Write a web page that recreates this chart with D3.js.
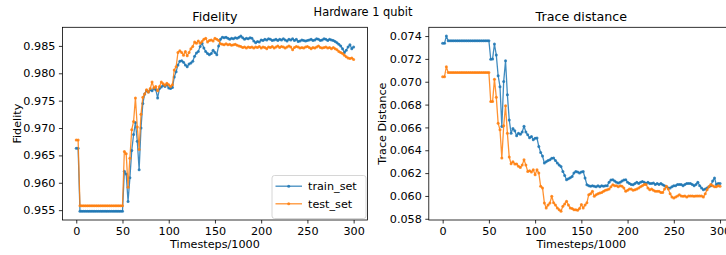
<!DOCTYPE html>
<html><head><meta charset="utf-8">
<script src="https://cdn.jsdelivr.net/npm/d3@7/dist/d3.min.js"></script>
<style>
html,body{margin:0;padding:0;background:#fff;}
svg{display:block;font-family:"DejaVu Sans",sans-serif;}
</style></head>
<body><svg id="chart" width="726" height="255"></svg>
<script>
// x positions: timesteps/1000, sampled every 2
const timesteps = d3.range(0, 301, 2);

const fidelityTrain = [
0.9663,0.9663,0.9548,0.9548,0.9548,0.9548,0.9548,0.9548,0.9548,0.9548,
0.9548,0.9548,0.9548,0.9548,0.9548,0.9548,0.9548,0.9548,0.9548,0.9548,
0.9548,0.9548,0.9548,0.9548,0.9548,0.9548,0.9621,0.9616,0.9566,0.9609,
0.9659,0.9688,0.9710,0.9676,0.9624,0.9700,0.9745,0.9762,0.9768,0.9766,
0.9770,0.9768,0.9772,0.9770,0.9755,0.9772,0.9775,0.9778,0.9776,0.9779,
0.9773,0.9772,0.9774,0.9793,0.9803,0.9815,0.9822,0.9823,0.9820,0.9815,
0.9812,0.9817,0.9819,0.9822,0.9831,0.9837,0.9840,0.9849,0.9855,0.9846,
0.9840,0.9836,0.9834,0.9836,0.9842,0.9838,0.9834,0.9850,0.9862,0.9866,
0.9865,0.9866,0.9864,0.9862,0.9864,0.9863,0.9865,0.9864,0.9866,0.9868,
0.9865,0.9862,0.9864,0.9863,0.9865,0.9864,0.9859,0.9856,0.9858,0.9857,
0.9861,0.9860,0.9862,0.9861,0.9863,0.9862,0.9860,0.9861,0.9862,0.9860,
0.9862,0.9861,0.9863,0.9861,0.9859,0.9862,0.9861,0.9863,0.9860,0.9862,
0.9858,0.9859,0.9861,0.9860,0.9859,0.9860,0.9861,0.9862,0.9860,0.9861,
0.9863,0.9862,0.9860,0.9861,0.9863,0.9862,0.9860,0.9862,0.9861,0.9860,
0.9858,0.9856,0.9853,0.9850,0.9845,0.9838,0.9842,0.9848,0.9852,0.9845,
0.9848];

const fidelityTest = [
0.9678,0.9678,0.9558,0.9558,0.9558,0.9558,0.9558,0.9558,0.9558,0.9558,
0.9558,0.9558,0.9558,0.9558,0.9558,0.9558,0.9558,0.9558,0.9558,0.9558,
0.9558,0.9558,0.9558,0.9558,0.9558,0.9558,0.9657,0.9653,0.9592,0.9645,
0.9697,0.9712,0.9755,0.9702,0.9661,0.9725,0.9756,0.9762,0.9770,0.9766,
0.9772,0.9784,0.9773,0.9776,0.9768,0.9776,0.9784,0.9781,0.9778,0.9782,
0.9779,0.9776,0.9779,0.9806,0.9812,0.9838,0.9841,0.9838,0.9833,0.9840,
0.9832,0.9838,0.9845,0.9849,0.9857,0.9855,0.9859,0.9855,0.9858,0.9862,
0.9864,0.9857,0.9860,0.9861,0.9859,0.9864,0.9862,0.9860,0.9854,0.9853,
0.9852,0.9854,0.9852,0.9853,0.9851,0.9852,0.9853,0.9851,0.9850,0.9849,
0.9847,0.9848,0.9846,0.9848,0.9847,0.9848,0.9846,0.9848,0.9847,0.9849,
0.9846,0.9848,0.9847,0.9845,0.9848,0.9847,0.9849,0.9846,0.9848,0.9850,
0.9847,0.9849,0.9848,0.9846,0.9848,0.9850,0.9848,0.9843,0.9847,0.9849,
0.9848,0.9846,0.9847,0.9846,0.9848,0.9849,0.9847,0.9845,0.9847,0.9846,
0.9848,0.9850,0.9847,0.9846,0.9847,0.9848,0.9846,0.9847,0.9845,0.9847,
0.9845,0.9843,0.9840,0.9838,0.9836,0.9833,0.9830,0.9828,0.9827,0.9828,
0.9825];

const traceTrain = [
0.07336,0.07336,0.0740,0.07359,0.07359,0.07359,0.07359,0.07359,0.07359,0.07359,
0.07359,0.07359,0.07359,0.07359,0.07359,0.07359,0.07359,0.07359,0.07359,0.07359,
0.07359,0.07359,0.07359,0.07359,0.07359,0.07359,0.07197,0.0720,0.0733,0.07234,
0.07053,0.06957,0.06608,0.07001,0.07184,0.06885,0.06666,0.0655,0.0659,0.0657,
0.06527,0.0655,0.0654,0.0656,0.0661,0.0656,0.06535,0.0651,0.0652,0.06492,
0.06505,0.06507,0.06433,0.0638,0.0635,0.06288,0.0630,0.0631,0.06317,0.0633,
0.06332,0.0631,0.06288,0.0627,0.06258,0.06215,0.0618,0.06142,0.0615,0.0616,
0.06171,0.0620,0.06215,0.0621,0.06201,0.0621,0.06215,0.06157,0.06099,0.0609,
0.06084,0.0609,0.06084,0.0608,0.0609,0.0608,0.0609,0.06084,0.0609,0.0609,
0.0612,0.0614,0.06142,0.0613,0.0612,0.06113,0.0612,0.0613,0.0614,0.06142,
0.0612,0.0611,0.0610,0.06099,0.0611,0.0612,0.0611,0.0612,0.06127,0.0612,
0.0611,0.0612,0.0611,0.0611,0.06113,0.0610,0.0611,0.0610,0.0611,0.06099,
0.0609,0.0608,0.0607,0.0607,0.0608,0.0609,0.0609,0.0610,0.0610,0.0610,
0.0609,0.0610,0.0611,0.0611,0.0611,0.0610,0.0609,0.0610,0.0612,0.0609,
0.0607,0.06055,0.0606,0.0607,0.0608,0.0609,0.0613,0.06157,0.0610,0.0611,
0.0611];

const traceTest = [
0.07044,0.07044,0.07132,0.0708,0.0708,0.0708,0.0708,0.0708,0.0708,0.0708,
0.0708,0.0708,0.0708,0.0708,0.0708,0.0708,0.0708,0.0708,0.0708,0.0708,
0.0708,0.0708,0.0708,0.0708,0.0708,0.0708,0.06826,0.06826,0.07022,0.06865,
0.06637,0.06579,0.06332,0.06614,0.06789,0.0655,0.0634,0.06282,0.0630,0.0628,
0.0628,0.0626,0.0625,0.0627,0.06317,0.0627,0.06215,0.0622,0.0621,0.0623,
0.06186,0.0623,0.0620,0.06084,0.0607,0.05939,0.05895,0.0592,0.05939,0.05997,
0.0594,0.0592,0.05895,0.0588,0.05866,0.05909,0.0593,0.05953,0.0592,0.05895,
0.0589,0.0588,0.0588,0.05875,0.0589,0.05924,0.05895,0.0592,0.0594,0.06011,
0.0602,0.0604,0.05997,0.0601,0.0602,0.06026,0.0603,0.0604,0.0605,0.06055,
0.0606,0.0608,0.06099,0.0609,0.0609,0.0608,0.0609,0.06084,0.0607,0.0604,
0.0605,0.0606,0.0606,0.0605,0.06055,0.0606,0.0607,0.0608,0.0609,0.0610,
0.0610,0.0607,0.06055,0.0606,0.0605,0.0604,0.0604,0.0604,0.0603,0.0603,
0.0606,0.06084,0.0606,0.0602,0.0599,0.05982,0.0599,0.0600,0.06011,0.0600,
0.05997,0.0600,0.0599,0.0600,0.0600,0.0600,0.05997,0.0600,0.0600,0.0600,
0.0600,0.0599,0.0602,0.06055,0.0608,0.0610,0.0609,0.0608,0.0608,0.0609,
0.06084];

const xTicks = [0, 50, 100, 150, 200, 250, 300];
const fidelityTicks = [0.955, 0.960, 0.965, 0.970, 0.975, 0.980, 0.985];
const traceTicks = [0.058, 0.060, 0.062, 0.064, 0.066, 0.068, 0.070, 0.072, 0.074];
const seriesNames = ["train_set", "test_set"];
const colors = ["#1f77b4", "#ff7f0e"];

const svg = d3.select("#chart");

svg.append("text").attr("x", 363).attr("y", 16).attr("text-anchor", "middle")
  .attr("font-size", 11.4).text("Hardware 1 qubit");

function mplDomain(arrs) {
  const lo = d3.min(arrs, a => d3.min(a)), hi = d3.max(arrs, a => d3.max(a));
  const m = (hi - lo) * 0.05;
  return [lo - m, hi + m];
}

function panel(opts) {
  const {left, right, top, bottom, series, yTicks, yFmt, title, ylabel, ylabelX, legend, clipId} = opts;
  const x = d3.scaleLinear().domain([-15, 315]).range([left, right]);
  const y = d3.scaleLinear().domain(mplDomain(series)).range([bottom, top]);
  const g = svg.append("g");

  svg.append("clipPath").attr("id", clipId).append("rect")
    .attr("x", left).attr("y", top).attr("width", right - left).attr("height", bottom - top);

  const plot = g.append("g").attr("clip-path", `url(#${clipId})`);
  series.forEach((vals, i) => {
    const pts = vals.map((v, k) => [timesteps[k], v]);
    plot.append("path").datum(pts)
      .attr("fill", "none").attr("stroke", colors[i]).attr("stroke-width", 1.3)
      .attr("stroke-opacity", 0.85).attr("stroke-linejoin", "round")
      .attr("d", d3.line().x(d => x(d[0])).y(d => y(d[1])));
    plot.append("g").selectAll("circle").data(pts).join("circle")
      .attr("cx", d => x(d[0])).attr("cy", d => y(d[1])).attr("r", 1.5)
      .attr("fill", colors[i]).attr("fill-opacity", 0.85);
  });

  // axes
  const xAxis = d3.axisBottom(x).tickValues(xTicks).tickSize(3.5).tickPadding(3.5).tickFormat(d3.format("d"));
  const yAxis = d3.axisLeft(y).tickValues(yTicks).tickSize(3.5).tickPadding(3.5).tickFormat(yFmt);
  const gx = g.append("g").attr("transform", `translate(0,${bottom})`).call(xAxis);
  const gy = g.append("g").attr("transform", `translate(${left},0)`).call(yAxis);
  [gx, gy].forEach(a => {
    a.select(".domain").remove();
    a.selectAll("line").attr("stroke", "#000").attr("stroke-width", 0.8);
    a.selectAll("text").attr("font-size", 11.2).attr("fill", "#000")
      .attr("font-family", "DejaVu Sans, sans-serif");
  });

  // frame
  g.append("rect").attr("x", left).attr("y", top).attr("width", right - left).attr("height", bottom - top)
    .attr("fill", "none").attr("stroke", "#000").attr("stroke-width", 0.8);

  g.append("text").attr("x", (left + right) / 2).attr("y", top - 6).attr("text-anchor", "middle")
    .attr("font-size", 12.7).text(title);
  g.append("text").attr("x", x(150)).attr("y", bottom + 28).attr("text-anchor", "middle")
    .attr("font-size", 11.2).text("Timesteps/1000");
  g.append("text").attr("transform", `translate(${ylabelX},${(top + bottom) / 2}) rotate(-90)`)
    .attr("text-anchor", "middle").attr("font-size", 11.2).text(ylabel);

  if (legend) {
    const lg = g.append("g");
    const lx = right - 95.5, ly = bottom - 44.5;
    lg.append("rect").attr("x", lx).attr("y", ly).attr("width", 94).attr("height", 43)
      .attr("rx", 2.5).attr("fill", "#fff").attr("fill-opacity", 0.8)
      .attr("stroke", "#ccc").attr("stroke-width", 0.8);
    seriesNames.forEach((name, i) => {
      const yy = ly + 10.7 + i * 17.6;
      lg.append("line").attr("x1", lx + 3.5).attr("x2", lx + 30).attr("y1", yy).attr("y2", yy)
        .attr("stroke", colors[i]).attr("stroke-width", 1.3).attr("stroke-opacity", 0.85);
      lg.append("circle").attr("cx", lx + 16.7).attr("cy", yy).attr("r", 1.5)
        .attr("fill", colors[i]).attr("fill-opacity", 0.85);
      lg.append("text").attr("x", lx + 36).attr("y", yy + 4).attr("font-size", 11.2).text(name);
    });
  }
}

panel({left: 62.4, right: 367.5, top: 27.3, bottom: 220, series: [fidelityTrain, fidelityTest],
  yTicks: fidelityTicks, yFmt: d3.format(".3f"), title: "Fidelity", ylabel: "Fidelity",
  ylabelX: 21, legend: true, clipId: "clipL"});
panel({left: 428.8, right: 733.9, top: 27.3, bottom: 220, series: [traceTrain, traceTest],
  yTicks: traceTicks, yFmt: d3.format(".3f"), title: "Trace distance", ylabel: "Trace Distance",
  ylabelX: 386, legend: false, clipId: "clipR"});
</script>
</body></html>
